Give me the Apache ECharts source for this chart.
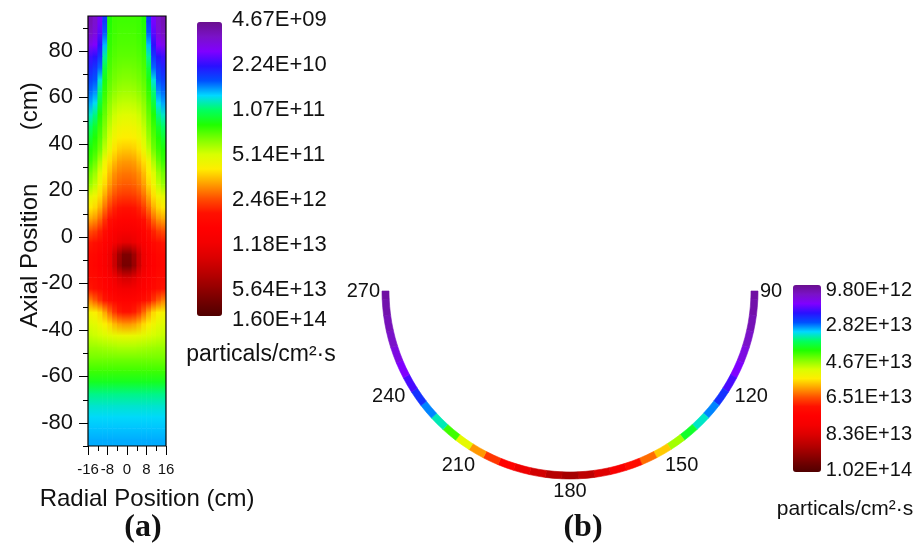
<!DOCTYPE html>
<html>
<head>
<meta charset="utf-8">
<script src="https://cdn.jsdelivr.net/npm/echarts@6/dist/echarts.min.js"></script>
<style>
  html, body { margin: 0; padding: 0; background: #fff; }
  #main { width: 915px; height: 549px; }
</style>
</head>
<body>
<div id="main"></div>
<script>
// ---------- (a) flux map over radial / axial position ----------
// cell centres in cm
const radialCentres = [-15, -13, -11, -9, -7, -5, -3, -1, 1, 3, 5, 7, 9, 11, 13, 15];
const axialCentres = [92.5, 87.5, 82.5, 77.5, 72.5, 67.5, 62.5, 57.5, 52.5, 47.5, 42.5, 37.5,
  32.5, 27.5, 22.5, 17.5, 12.5, 7.5, 2.5, -2.5, -7.5, -12.5, -17.5, -22.5, -27.5, -32.5,
  -37.5, -42.5, -47.5, -52.5, -57.5, -62.5, -67.5, -72.5, -77.5, -82.5, -87.5];

// log10 of the flux for |r| = 1, 3, 5, ... 15 cm (the map is symmetric about r = 0),
// one row per axial centre, top to bottom
const fluxLogHalf = [
  [11.33, 11.33, 11.32, 11.25, 10.50, 10.15, 9.92, 9.82],
  [11.35, 11.35, 11.33, 11.28, 10.60, 10.22, 9.98, 9.88],
  [11.37, 11.37, 11.35, 11.30, 10.75, 10.35, 10.12, 10.05],
  [11.40, 11.40, 11.38, 11.33, 10.95, 10.48, 10.35, 10.30],
  [11.45, 11.44, 11.42, 11.36, 11.12, 10.62, 10.48, 10.42],
  [11.50, 11.49, 11.46, 11.40, 11.22, 10.85, 10.58, 10.52],
  [11.57, 11.56, 11.52, 11.45, 11.30, 11.00, 10.68, 10.62],
  [11.65, 11.64, 11.60, 11.52, 11.36, 11.12, 10.82, 10.72],
  [11.75, 11.73, 11.68, 11.58, 11.42, 11.25, 10.98, 10.88],
  [11.85, 11.83, 11.77, 11.65, 11.48, 11.32, 11.15, 11.02],
  [11.94, 11.92, 11.86, 11.72, 11.55, 11.38, 11.25, 11.15],
  [12.05, 12.03, 11.97, 11.82, 11.65, 11.45, 11.32, 11.25],
  [12.18, 12.16, 12.08, 11.98, 11.85, 11.60, 11.42, 11.32],
  [12.28, 12.26, 12.20, 12.08, 11.93, 11.75, 11.55, 11.45],
  [12.36, 12.34, 12.28, 12.17, 12.00, 11.85, 11.65, 11.55],
  [12.48, 12.46, 12.40, 12.30, 12.14, 11.98, 11.85, 11.78],
  [12.63, 12.61, 12.56, 12.46, 12.30, 12.12, 12.00, 11.95],
  [12.80, 12.78, 12.73, 12.64, 12.50, 12.32, 12.20, 12.15],
  [12.98, 12.96, 12.90, 12.80, 12.68, 12.55, 12.45, 12.40],
  [13.20, 13.15, 13.05, 12.92, 12.82, 12.72, 12.65, 12.60],
  [13.90, 13.70, 13.40, 13.10, 12.92, 12.82, 12.75, 12.72],
  [13.95, 13.75, 13.42, 13.12, 12.95, 12.85, 12.78, 12.75],
  [13.35, 13.25, 13.10, 12.95, 12.85, 12.78, 12.72, 12.70],
  [13.05, 13.00, 12.92, 12.85, 12.78, 12.72, 12.65, 12.60],
  [12.80, 12.78, 12.75, 12.68, 12.60, 12.48, 12.35, 12.25],
  [12.62, 12.58, 12.48, 12.32, 12.15, 12.00, 11.92, 11.88],
  [12.20, 12.17, 12.10, 12.00, 11.92, 11.85, 11.78, 11.75],
  [11.82, 11.81, 11.79, 11.76, 11.73, 11.70, 11.68, 11.66],
  [11.60, 11.60, 11.59, 11.58, 11.57, 11.56, 11.55, 11.55],
  [11.45, 11.45, 11.45, 11.45, 11.45, 11.45, 11.45, 11.45],
  [11.33, 11.33, 11.33, 11.33, 11.33, 11.33, 11.33, 11.33],
  [11.18, 11.18, 11.18, 11.18, 11.18, 11.18, 11.18, 11.18],
  [10.98, 10.98, 10.98, 10.98, 10.98, 10.98, 10.98, 10.98],
  [10.88, 10.88, 10.88, 10.88, 10.88, 10.88, 10.88, 10.88],
  [10.81, 10.81, 10.81, 10.81, 10.81, 10.81, 10.81, 10.81],
  [10.77, 10.77, 10.77, 10.77, 10.77, 10.77, 10.77, 10.77],
  [10.73, 10.73, 10.73, 10.73, 10.73, 10.73, 10.73, 10.73]
];

const radialTickRange = [-16, 16];
const axialRange = [-90, 95];
const axialTicks = [-80, -60, -40, -20, 0, 20, 40, 60, 80];
const axialMinorTicks = [-90, -70, -50, -30, -10, 10, 30, 50, 70, 90];

// colour-bar ticks of (a), particles/cm^2.s
const barATicks = [4.67e9, 2.24e10, 1.07e11, 5.14e11, 2.46e12, 1.18e13, 5.64e13, 1.60e14];
const barALabels = ['4.67E+09', '2.24E+10', '1.07E+11', '5.14E+11', '2.46E+12', '1.18E+13', '5.64E+13', '1.60E+14'];

// ---------- (b) flux around the lower half of the wall ----------
const arcAngles = [90, 95, 100, 105, 110, 115, 120, 125, 130, 135, 140, 145, 150, 155, 160, 165,
  170, 175, 180, 185, 190, 195, 200, 205, 210, 215, 220, 225, 230, 235, 240, 245, 250, 255, 260, 265, 270];
// flux in units of 1e13 particles/cm^2.s
const arcFlux = [1.15, 1.20, 1.30, 1.45, 1.65, 1.90, 2.20, 2.60, 3.00, 3.45, 4.00, 4.85, 5.80, 6.35,
  7.10, 7.70, 8.30, 8.80, 9.10, 8.90, 8.50, 8.00, 7.40, 6.70, 6.10, 5.30, 4.35, 3.50, 3.00, 2.60,
  2.20, 1.90, 1.65, 1.45, 1.32, 1.22, 1.15];
const arcLabelAngles = [90, 120, 150, 180, 210, 240, 270];

// colour-bar ticks of (b), in units of 1e13
const barBTicks = [0.98, 2.82, 4.67, 6.51, 8.36, 10.2];
const barBLabels = ['9.80E+12', '2.82E+13', '4.67E+13', '6.51E+13', '8.36E+13', '1.02E+14'];

// ---------- styling ----------
const rainbow = ['#6a0f8e', '#7a12c8', '#8000ff', '#2a10ff', '#0050ff', '#00d8ff', '#00ff60',
  '#20ff00', '#80ff00', '#d8ff00', '#ffee00', '#ffa000', '#ff5000', '#ff1000', '#ff0000',
  '#f40000', '#dc0000', '#bc0000', '#980000', '#720000', '#500000'];
const sans = "'Liberation Sans', Arial, sans-serif";
const serif = "'Liberation Serif', 'Times New Roman', serif";
const ink = '#111';

// ---------- build series data ----------
const nCols = radialCentres.length;
const cellData = [];
axialCentres.forEach((y, i) => {
  radialCentres.forEach(r => {
    cellData.push([r, y, fluxLogHalf[i][(Math.abs(r) - 1) / 2]]);
  });
});
const colStep = radialCentres[1] - radialCentres[0];
const rowStep = axialCentres[0] - axialCentres[1];

const barALog = barATicks.map(v => Math.log10(v));
const halfStep = (arcAngles[1] - arcAngles[0]) / 2;
const arcData = arcAngles.map((a, i) => [
  Math.max(arcAngles[0], a - halfStep),
  Math.min(arcAngles[arcAngles.length - 1], a + halfStep),
  arcFlux[i]
]);

const pick = (ticks, labels) => v => {
  const k = ticks.findIndex(t => Math.abs(t - v) < 1e-6);
  return k < 0 ? '' : labels[k];
};

const noLine = () => ({ show: false, onZero: false });
const tickStyle = { color: '#000', width: 1 };

// one map cell: shaded from its own colour at the cell centre to the colour of the cell below
function renderCell(params, api) {
  const idx = params.dataIndexInside;
  const r = api.value(0), y = api.value(1);
  const c = api.visual('color');
  const kids = [];
  const box = (yTop, yBottom, fill) => {
    const a = api.coord([r - colStep / 2, yTop]);
    const b = api.coord([r + colStep / 2, yBottom]);
    kids.push({ type: 'rect', shape: { x: a[0] - 0.3, y: a[1] - 0.3, width: b[0] - a[0] + 0.6, height: b[1] - a[1] + 0.6 },
      style: { fill } });
  };
  if (idx < nCols) box(y + rowStep / 2, y, c);
  if (idx + nCols < params.dataInsideLength) {
    const below = api.visual('color', idx + nCols);
    box(y, y - rowStep, { type: 'linear', x: 0, y: 0, x2: 0, y2: 1,
      colorStops: [{ offset: 0, color: c }, { offset: 1, color: below }] });
  } else {
    box(y, y - rowStep / 2, c);
  }
  return { type: 'group', children: kids };
}

const chart = echarts.init(document.getElementById('main'));
const texts = [
  { id: 'yTitle', type: 'text', x: 30, y: 205, rotation: Math.PI / 2,
    style: { text: 'Axial Position        (cm)', font: `24px ${sans}`, fill: ink, align: 'center', verticalAlign: 'middle' } },
  { id: 'xTitle', type: 'text', x: 147, y: 499,
    style: { text: 'Radial Position (cm)', font: `24px ${sans}`, fill: ink, align: 'center', verticalAlign: 'middle' } },
  { id: 'unitA', type: 'text', x: 261, y: 355,
    style: { text: 'particals/cm²·s', font: `23px ${sans}`, fill: ink, align: 'center', verticalAlign: 'middle' } },
  { id: 'unitB', type: 'text', x: 845, y: 509,
    style: { text: 'particals/cm²·s', font: `21px ${sans}`, fill: ink, align: 'center', verticalAlign: 'middle' } },
  { id: 'tagA', type: 'text', x: 143, y: 528,
    style: { text: '(a)', font: `bold 32px ${serif}`, fill: ink, align: 'center', verticalAlign: 'middle' } },
  { id: 'tagB', type: 'text', x: 583, y: 528,
    style: { text: '(b)', font: `bold 32px ${serif}`, fill: ink, align: 'center', verticalAlign: 'middle' } }
];

chart.setOption({
  animation: false,
  backgroundColor: '#fff',
  textStyle: { fontFamily: sans },
  grid: [
    { left: 88, top: 16, width: 78, height: 430 },
    { left: 197, top: 20, width: 25, height: 300 },
    { left: 793, top: 290, width: 28, height: 180 }
  ],
  xAxis: [
    { gridIndex: 0, type: 'value', min: radialTickRange[0], max: radialTickRange[1], interval: 8,
      position: 'bottom', axisLine: noLine(),
      axisTick: { show: true, length: 9, lineStyle: tickStyle },
      minorTick: { show: true, splitNumber: 2, length: 5, lineStyle: tickStyle },
      splitLine: { show: false },
      axisLabel: { fontSize: 15, color: ink, margin: 16 } },
    { gridIndex: 1, type: 'value', show: false },
    { gridIndex: 2, type: 'value', show: false }
  ],
  yAxis: [
    { gridIndex: 0, type: 'value', min: axialRange[0], max: axialRange[1], position: 'left',
      axisLine: noLine(), splitLine: { show: false }, axisTick: { show: false },
      axisLabel: { customValues: axialTicks, fontSize: 22, color: ink, margin: 15 } },
    { gridIndex: 1, type: 'value', inverse: true, min: barALog[0], max: barALog[barALog.length - 1],
      position: 'right', axisLine: noLine(), axisTick: { show: false }, splitLine: { show: false },
      axisLabel: { customValues: barALog, formatter: pick(barALog, barALabels), fontSize: 22, color: ink, margin: 10 } },
    { gridIndex: 2, type: 'value', inverse: true, min: barBTicks[0], max: barBTicks[barBTicks.length - 1],
      position: 'right', axisLine: noLine(), axisTick: { show: false }, splitLine: { show: false },
      axisLabel: { customValues: barBTicks, formatter: pick(barBTicks, barBLabels), fontSize: 20, color: ink, margin: 7 } }
  ],
  polar: { center: [570, 291], radius: [181, 188] },
  angleAxis: {
    type: 'value', min: 0, max: 360, interval: 30, startAngle: 90, clockwise: true,
    axisLine: { show: false }, axisTick: { show: false }, splitLine: { show: false },
    axisLabel: { margin: 2, fontSize: 20, color: ink,
      formatter: v => (arcLabelAngles.indexOf(v) >= 0 ? String(v) : '') }
  },
  radiusAxis: { type: 'value', min: 0, max: 1, show: false },
  visualMap: [
    { type: 'continuous', seriesIndex: 0, dimension: 2, min: barALog[0], max: barALog[barALog.length - 1],
      inverse: true, orient: 'vertical', left: 197, top: 22, itemWidth: 25, itemHeight: 294,
      calculable: false, hoverLink: false, padding: 0, inRange: { color: rainbow } },
    { type: 'continuous', seriesIndex: 1, dimension: 2, min: barBTicks[0], max: barBTicks[barBTicks.length - 1],
      inverse: true, orient: 'vertical', left: 793, top: 285, itemWidth: 28, itemHeight: 187,
      calculable: false, hoverLink: false, padding: 0, inRange: { color: rainbow } }
  ],
  series: [
    { type: 'custom', xAxisIndex: 0, yAxisIndex: 0, data: cellData, renderItem: renderCell,
      clip: true, silent: true },
    { type: 'custom', coordinateSystem: 'polar', data: arcData, silent: true,
      renderItem: (params, api) => {
        const cs = params.coordSys;
        const pa = api.coord([1, api.value(0)]);
        const pb = api.coord([1, api.value(1)]);
        const s = Math.atan2(pa[1] - cs.cy, pa[0] - cs.cx);
        let e = Math.atan2(pb[1] - cs.cy, pb[0] - cs.cx);
        if (e < s) e += Math.PI * 2;
        const c = api.visual('color');
        return {
          type: 'sector',
          shape: { cx: cs.cx, cy: cs.cy, r0: cs.r0, r: cs.r, startAngle: s, endAngle: e, clockwise: true },
          style: { fill: c, stroke: c, lineWidth: 0.6 }
        };
      } }
  ],
  graphic: texts
});

// frame round the map and the axial ticks, placed through the map's own axes
const toPx = (r, y) => chart.convertToPixel({ gridIndex: 0 }, [r, y]);
const tl = toPx(radialTickRange[0], axialRange[1]);
const br = toPx(radialTickRange[1], axialRange[0]);
const tick = (v, len, id) => {
  const p = toPx(radialTickRange[0], v);
  const yy = Math.round(p[1]) + 0.5;
  return { id, type: 'line', z: 100, silent: true,
    shape: { x1: p[0] - len, y1: yy, x2: p[0], y2: yy }, style: { stroke: '#000', lineWidth: 1 } };
};
const decor = [{ id: 'frame', type: 'rect', z: 100, silent: true,
  shape: { x: tl[0], y: tl[1], width: br[0] - tl[0], height: br[1] - tl[1] },
  style: { fill: null, stroke: '#000', lineWidth: 1.2 } }];
axialTicks.forEach((v, i) => decor.push(tick(v, 9, 'major' + i)));
axialMinorTicks.forEach((v, i) => decor.push(tick(v, 5, 'minor' + i)));
chart.setOption({ graphic: texts.concat(decor) });
</script>
</body>
</html>
